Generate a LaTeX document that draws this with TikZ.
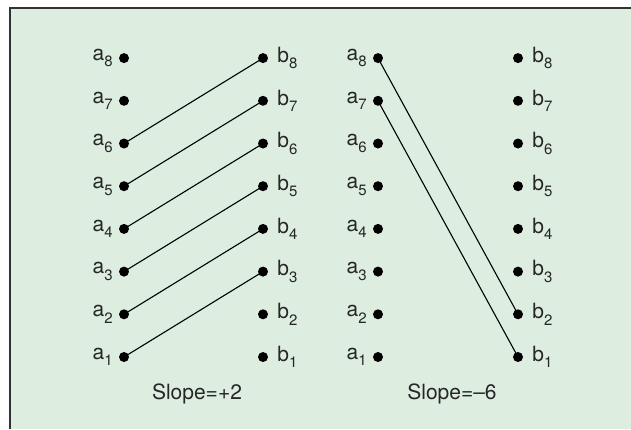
\documentclass[tikz,border=0pt]{standalone}
\usepackage{fontspec}
\setmainfont{TeX Gyre Heros}
\usetikzlibrary{%
    positioning%
}
\definecolor{panelgreen}{RGB}{221,237,224}
\definecolor{framegray}{RGB}{50,50,50}
% letter with a lowered index
\newcommand{\idx}[2]{#1\raisebox{-6.5pt}{\fontsize{15}{15}\selectfont #2}}
\tikzset{
    dot/.style = {circle, fill = black, inner sep = 0pt, minimum size = 10pt},
    aname/.style = {label = {[inner sep = 0pt, label distance = 6pt, text = black!85]left:#1}},
    bname/.style = {label = {[inner sep = 0pt, label distance = 9pt, text = black!85]right:#1}},
    pair/.style = {line width = 1.1pt, black}
}

\begin{document}
\begin{tikzpicture}[x = 1pt, y = -1pt, font = \fontsize{21}{25}\selectfont]
    \useasboundingbox (0,0) rectangle (631,429);
    % Panel with frame on top and left only
    \fill[panelgreen] (10,8) rectangle (631,429);
    \draw[framegray, line width = 2pt] (10,429) -- (10,8) -- (631,8);

    % Left pair of columns
    \foreach \k in {1,...,8} {
        \node[dot, aname = {\idx{a}{\k}}] (la\k) at (124, {357 - 42.7*(\k-1)}) {};
        \node[dot, bname = {\idx{b}{\k}}] (lb\k) at (263, {357 - 42.7*(\k-1)}) {};
    }
    % Right pair of columns
    \foreach \k in {1,...,8} {
        \node[dot, aname = {\idx{a}{\k}}] (ra\k) at (378, {357 - 42.7*(\k-1)}) {};
        \node[dot, bname = {\idx{b}{\k}}] (rb\k) at (518, {357 - 42.7*(\k-1)}) {};
    }

    % Matching lines
    \foreach \k [evaluate = \k as \j using int(\k+2)] in {1,...,6} {
        \draw[pair] (la\k.center) -- (lb\j.center);
    }
    \draw[pair] (ra7.center) -- (rb1.center);
    \draw[pair] (ra8.center) -- (rb2.center);

    % Captions
    \node[text = black!85] (lslope) at (197,394) {Slope=+2};
    \node[text = black!85] (rslope) at (452,394) {Slope=–6};
\end{tikzpicture}
\end{document}
